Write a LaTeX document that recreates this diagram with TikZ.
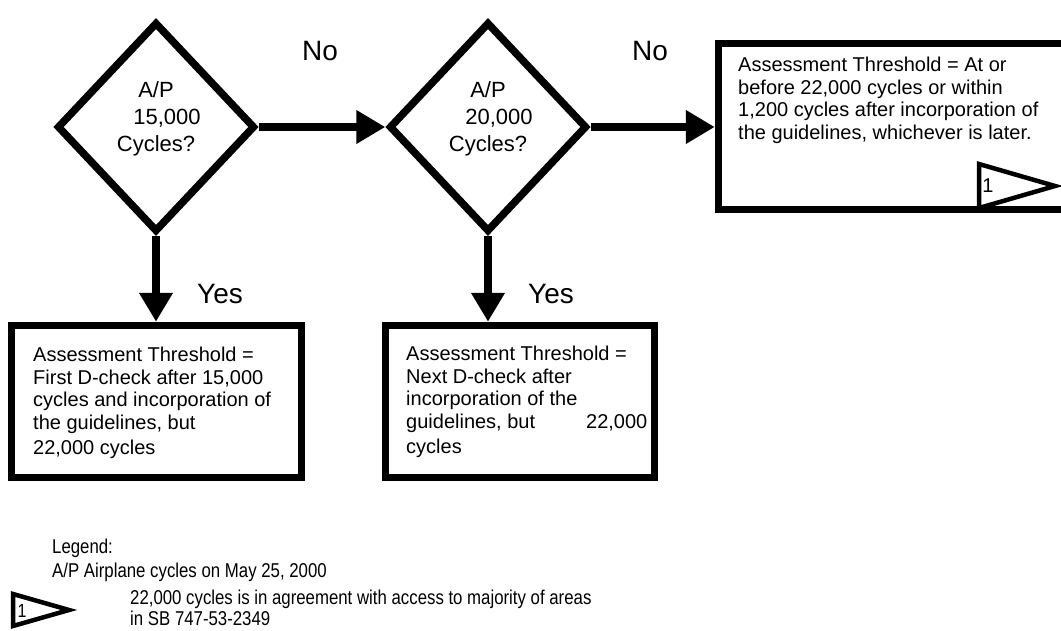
\documentclass[tikz,border=0pt]{standalone}
\usepackage{fontspec}
\setmainfont{Liberation Sans}
\newfontfamily\narrowsans[FakeStretch=0.84]{Liberation Sans}
\usetikzlibrary{arrows.meta,shapes.geometric}
\begin{document}
\begin{tikzpicture}[x=1pt,y=-1pt,
  dec/.style={draw, diamond, line width=7.5pt, minimum width=198pt, minimum height=210pt, inner sep=0pt},
  box/.style={draw, rectangle, line width=7.5pt, inner sep=0pt},
  flow/.style={line width=7.5pt, -{Triangle[length=29pt,width=32pt]}},
  lbl/.style={font=\fontsize{28}{32}\selectfont, inner sep=0pt, anchor=base west},
  dtext/.style={font=\fontsize{22}{27}\selectfont, align=center, inner sep=0pt, anchor=north},
  btext/.style={font=\fontsize{20}{22.5}\selectfont, align=left, inner sep=0pt, anchor=north west},
  ref/.style={line width=4.5pt, line join=miter},
  refnum/.style={font=\fontsize{20}{24}\selectfont, inner sep=0pt},
  legnum/.style={font=\narrowsans\fontsize{19}{22}\selectfont, inner sep=0pt},
  leg/.style={font=\narrowsans\fontsize{20}{22}\selectfont, inner sep=0pt, anchor=base west}
]
\useasboundingbox (0,0) rectangle (1061,630);
\clip (0,0) rectangle (1061,630);

% decisions
\node[dec] (d1) at (156,127) {};
\node[dec] (d2) at (488,127) {};
\node[dtext] (d1t) at (156,81) {A/P\\\hspace*{22pt}15,000\\Cycles?};
\node[dtext] (d2t) at (488,81) {A/P\\\hspace*{22pt}20,000\\Cycles?};

% boxes
\node[box, minimum width=290pt, minimum height=152pt] (lbox) at (156.5,401.5) {};
\node[box, minimum width=269pt, minimum height=152pt] (mbox) at (520,401.5) {};
\node[box, minimum width=357pt, minimum height=166pt] (rbox) at (897,126.5) {};

% connectors
\draw[flow] (d1.east) -- (d2.west);
\draw[flow] (d2.east) -- (d2.east -| rbox.west);
\draw[flow] (d1.south) -- (d1.south |- lbox.north);
\draw[flow] (d2.south) -- (d2.south |- mbox.north);

% labels
\node[lbl] (no1) at (302,60) {No};
\node[lbl] (no2) at (632,60) {No};
\node[lbl] (yes1) at (197,303) {Yes};
\node[lbl] (yes2) at (528,303) {Yes};

% box texts
\node[btext] (rt) at (738,57) {Assessment Threshold = At or\\before 22,000 cycles or within\\1,200 cycles after incorporation of\\the guidelines, whichever is later.};
\node[btext] (lt) at (33,347) {Assessment Threshold =\\First D-check after 15,000\\cycles and incorporation of\\the guidelines, but\\[3pt]22,000 cycles};
\node[btext] (mt) at (406,346) {Assessment Threshold =\\Next D-check after\\incorporation of the\\guidelines, but\hspace{51pt}22,000\\[3pt]cycles};

% reference flag in box
\draw[ref] (979,164) -- (1055,186) -- (979,208) -- cycle;
\node[refnum] (r1) at (988,186) {1};

% legend
\node[leg] (legend) at (52,553) {Legend:};
\node[leg] (ap) at (52,577) {A/P Airplane cycles on May 25, 2000};
\draw[ref] (13,594) -- (69,610) -- (13,626) -- cycle;
\node[legnum] (l1) at (22,611) {1};
\node[leg] (note) at (130,604) {22,000 cycles is in agreement with access to majority of areas};
\node[leg] (note2) at (130,625) {in SB 747-53-2349};
\end{tikzpicture}
\end{document}
